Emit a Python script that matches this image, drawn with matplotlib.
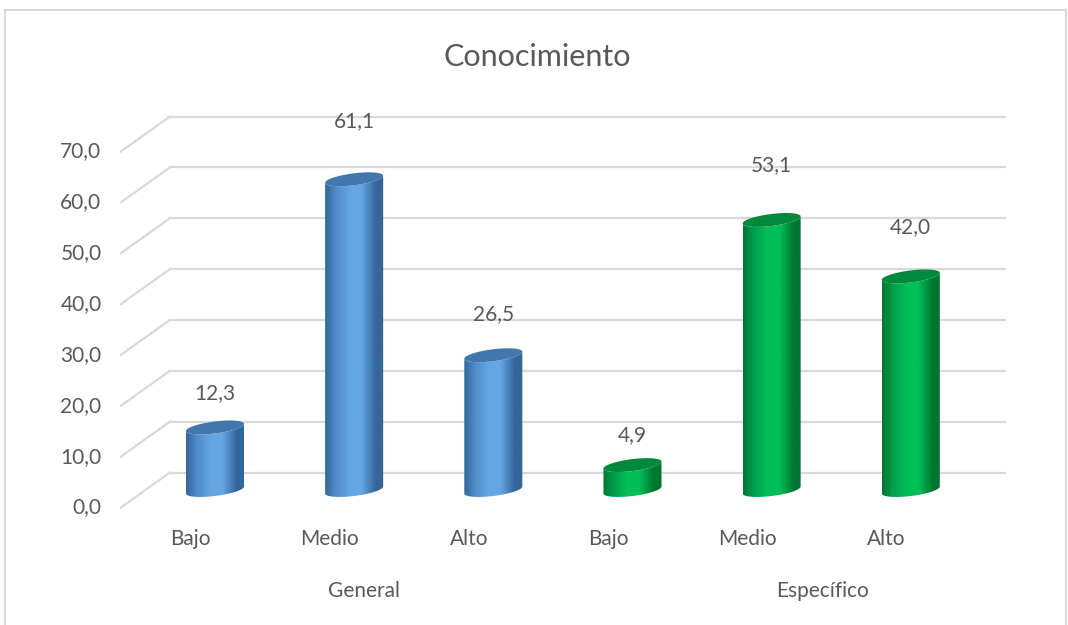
import numpy as np
import matplotlib.pyplot as plt
from matplotlib.path import Path
from matplotlib.patches import PathPatch, Rectangle
from matplotlib.colors import LinearSegmentedColormap

plt.rcParams['font.family'] = ['Lato', 'DejaVu Sans']

# datos
categorias = ['Bajo', 'Medio', 'Alto', 'Bajo', 'Medio', 'Alto']
grupos = ['General', 'Específico']
valores = [12.3, 61.1, 26.5, 4.9, 53.1, 42.0]
serie = ['general', 'general', 'general', 'especifico', 'especifico', 'especifico']
yticks = [0, 10, 20, 30, 40, 50, 60, 70]

estilos = {
    'general': dict(dark='#34669b', mid='#4f8bc8', light='#64a7e4', top='#4277ae'),
    'especifico': dict(dark='#007632', mid='#00a04a', light='#00bf57', top='#00893c'),
}
gris_txt = '#595959'
gris_grid = '#d9d9d9'

W, H = 1068, 625
fig = plt.figure(figsize=(W / 100, H / 100), dpi=100)
ax = fig.add_axes([145.4 / W, 135 / H, 835 / W, 356 / H])
ax.set_xlim(-0.5, 5.5)
ax.set_ylim(0, 70)
ax.axis('off')

# profundidad del grafico 3D (en unidades de datos)
ppx = ax.bbox.width / 6.0
ppy = ax.bbox.height / 70.0
dxd = 24.5 / ppx
dyd = 17.5 / ppy

# rejilla: pared del fondo + piso izquierdo inclinado
for v in yticks:
    ax.plot([-0.5 + dxd, 5.5 + dxd], [v + dyd, v + dyd], color=gris_grid,
            lw=1.6, clip_on=False, zorder=1)
    ax.plot([-0.5 - dxd, -0.5 + dxd], [v - dyd, v + dyd], color=gris_grid,
            lw=1.6, clip_on=False, zorder=1)
    ax.annotate(f'{v:.1f}'.replace('.', ','), (-0.5 - dxd, v - dyd),
                xytext=(-14, 0), textcoords='offset points', ha='right',
                va='center', fontsize=15, color=gris_txt, annotation_clip=False)

# cilindros
a = 0.2085
b = 6.0 / ppy
sh = 3.5 / ppy
t_low = np.linspace(np.pi, 2 * np.pi, 60)
t_all = np.linspace(0, 2 * np.pi, 120)


def elipse(cx, cy, t):
    return cx + a * np.cos(t), cy + b * np.sin(t) + sh * np.cos(t)


for i, (v, s) in enumerate(zip(valores, serie)):
    st = estilos[s]
    xb, yb = elipse(i, 0, t_low)
    xt, yt = elipse(i, v, t_low[::-1])
    xs = np.concatenate([xb, xt, [xb[0]]])
    ys = np.concatenate([yb, yt, [yb[0]]])
    verts = np.column_stack([xs, ys])
    body = PathPatch(Path(verts), facecolor='none', edgecolor='none',
                     clip_on=False)
    ax.add_patch(body)

    cmap = LinearSegmentedColormap.from_list(
        s, [(0, st['dark']), (0.18, st['mid']), (0.42, st['light']),
            (0.62, st['light']), (0.86, st['dark']), (1, st['dark'])])
    grad = np.linspace(0, 1, 200)[None, :]
    im = ax.imshow(grad, cmap=cmap, aspect='auto', interpolation='bicubic',
                   extent=(i - a, i + a, -b - sh, v + b + sh), zorder=2)
    im.set_clip_box(fig.bbox)
    im.set_clip_path(body)

    xe, ye = elipse(i, v, t_all)
    ax.fill(xe, ye, color=st['top'], zorder=3, lw=0, clip_on=False)

    ax.annotate(f'{v:.1f}'.replace('.', ','), (i, v),
                xytext=(0, (28 + 0.5 * v) * 0.72), textcoords='offset points',
                ha='center', va='center', fontsize=15, color=gris_txt,
                annotation_clip=False)

ax.set_xlim(-0.5, 5.5)
ax.set_ylim(0, 70)

# etiquetas de categoria en el plano frontal
for i, c in enumerate(categorias):
    ax.annotate(c, (i - dxd, -dyd), xytext=(0, -23), textcoords='offset points',
                ha='center', va='center', fontsize=15, color=gris_txt,
                annotation_clip=False)

for g, xf in zip(grupos, [0.262, 0.811]):
    ax.text(xf, -0.285, g, transform=ax.transAxes, ha='center', va='center',
            fontsize=15, color=gris_txt)

fig.text(537 / W, 1 - 57 / H, 'Conocimiento', ha='center', va='center',
         fontsize=22, color=gris_txt)

fig.add_artist(Rectangle((5 / W, -0.05), 1061 / W, 1 - 10 / H + 0.05,
                         transform=fig.transFigure, fill=False,
                         edgecolor=gris_grid, lw=1.5))

fig.savefig('out.png', dpi=100)
